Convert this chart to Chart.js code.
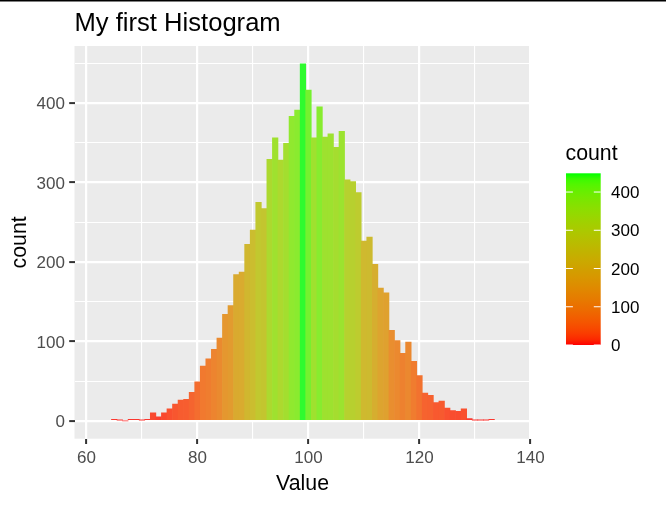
<!DOCTYPE html>
<html>
<head>
<meta charset="utf-8">
<script src="https://cdn.jsdelivr.net/npm/chart.js@4/dist/chart.umd.min.js"></script>
<style>
  body { margin: 0; background: #ffffff; }
  canvas { display: block; }
</style>
</head>
<body>
<canvas id="histogram" width="666" height="505"></canvas>
<script>
// histogram bins (centre of each 1-wide bin) and counts
var binCenters = [65, 66, 67, 68, 69, 70, 71, 72, 73, 74, 75, 76, 77, 78, 79, 80, 81, 82, 83, 84,
   85, 86, 87, 88, 89, 90, 91, 92, 93, 94, 95, 96, 97, 98, 99, 100, 101, 102, 103, 104,
   105, 106, 107, 108, 109, 110, 111, 112, 113, 114, 115, 116, 117, 118, 119, 120, 121, 122, 123, 124,
   125, 126, 127, 128, 129, 130, 131, 132, 133];
var counts = [2, 1, 0, 2, 2, 1, 2, 10, 5, 10, 15, 21, 26, 27, 36, 49, 69, 78, 90, 104,
   134, 145, 184, 187, 222, 240, 275, 267, 329, 356, 328, 349, 383, 391, 449, 416, 356, 395, 357, 361,
   344, 364, 303, 301, 287, 226, 231, 197, 167, 161, 114, 101, 85, 99, 75, 57, 35, 32, 23, 25,
   16, 13, 12, 15, 3, 1, 1, 1, 2];

var xMajorTicks = [60, 80, 100, 120, 140];
var xMinorTicks = [70, 90, 110, 130];
var yMajorTicks = [0, 100, 200, 300, 400];
var yMinorTicks = [50, 150, 250, 350, 450];
var legendTicks = [0, 100, 200, 300, 400];

var countMin = Math.min.apply(null, counts);
var countMax = Math.max.apply(null, counts);

var FONT = "'Liberation Sans', Arial, sans-serif";
var PANEL = [235, 235, 235];

// sRGB <-> CIE Lab, so the fill gradient is interpolated like ggplot's scale_fill_gradient
function toLinear(c) {
   c = c / 255;
   return c <= 0.04045 ? c / 12.92 : Math.pow((c + 0.055) / 1.055, 2.4);
}
function fromLinear(c) {
   c = c <= 0.0031308 ? 12.92 * c : 1.055 * Math.pow(c, 1 / 2.4) - 0.055;
   return Math.max(0, Math.min(255, Math.round(c * 255)));
}
function rgbToLab(rgb) {
   var r = toLinear(rgb[0]), g = toLinear(rgb[1]), b = toLinear(rgb[2]);
   var x = (0.4124564 * r + 0.3575761 * g + 0.1804375 * b) / 0.95047;
   var y = 0.2126729 * r + 0.7151522 * g + 0.072175 * b;
   var z = (0.0193339 * r + 0.119192 * g + 0.9503041 * b) / 1.08883;
   var f = function (t) { return t > 0.008856 ? Math.cbrt(t) : 7.787 * t + 16 / 116; };
   var fx = f(x), fy = f(y), fz = f(z);
   return [116 * fy - 16, 500 * (fx - fy), 200 * (fy - fz)];
}
function labToRgb(lab) {
   var fy = (lab[0] + 16) / 116;
   var fx = fy + lab[1] / 500;
   var fz = fy - lab[2] / 200;
   var inv = function (t) { return t * t * t > 0.008856 ? t * t * t : (t - 16 / 116) / 7.787; };
   var x = inv(fx) * 0.95047, y = inv(fy), z = inv(fz) * 1.08883;
   var r = 3.2404542 * x - 1.5371385 * y - 0.4985314 * z;
   var g = -0.969266 * x + 1.8760108 * y + 0.041556 * z;
   var b = 0.0556434 * x - 0.2040259 * y + 1.0572252 * z;
   return [fromLinear(r), fromLinear(g), fromLinear(b)];
}

var lowLab = rgbToLab([255, 0, 0]);
var highLab = rgbToLab([0, 255, 0]);

function fillRgb(value) {
   var t = (value - countMin) / (countMax - countMin);
   return labToRgb([
      lowLab[0] + t * (highLab[0] - lowLab[0]),
      lowLab[1] + t * (highLab[1] - lowLab[1]),
      lowLab[2] + t * (highLab[2] - lowLab[2]),
   ]);
}
// bars use alpha 0.8 over the grey panel
function barColor(value) {
   var c = fillRgb(value);
   var a = 0.8;
   return "rgb(" + Math.round(c[0] * a + PANEL[0] * (1 - a)) + "," +
      Math.round(c[1] * a + PANEL[1] * (1 - a)) + "," +
      Math.round(c[2] * a + PANEL[2] * (1 - a)) + ")";
}
function solidColor(value) {
   var c = fillRgb(value);
   return "rgb(" + c[0] + "," + c[1] + "," + c[2] + ")";
}

function isMajor(c, majors) {
   return !!(c && c.tick) && majors.indexOf(c.tick.value) >= 0;
}

var points = [];
for (let i = 0; i < binCenters.length; i++) {
   points.push({ x: binCenters[i], y: counts[i] });
}

var panelPlugin = {
   id: "panel",
   beforeDraw: function (chart) {
      var ctx = chart.ctx;
      var area = chart.chartArea;
      ctx.save();
      ctx.fillStyle = "#ffffff";
      ctx.fillRect(0, 0, chart.width, chart.height);
      ctx.fillStyle = "#000000";
      ctx.fillRect(0, 0, chart.width, 1.5);
      ctx.fillStyle = "rgb(" + PANEL.join(",") + ")";
      ctx.fillRect(area.left, area.top, area.right - area.left, area.bottom - area.top);
      ctx.restore();
   },
};

var colorbarPlugin = {
   id: "colorbar",
   afterDraw: function (chart) {
      var ctx = chart.ctx;
      var left = 566, right = 600.7, top = 173.3, bottom = 345;
      ctx.save();
      var grad = ctx.createLinearGradient(0, bottom, 0, top);
      for (let i = 0; i <= 30; i++) {
         var t = i / 30;
         grad.addColorStop(t, solidColor(countMin + t * (countMax - countMin)));
      }
      ctx.fillStyle = grad;
      ctx.fillRect(left, top, right - left, bottom - top);

      ctx.strokeStyle = "#ffffff";
      ctx.lineWidth = 1;
      ctx.fillStyle = "#000000";
      ctx.font = "17px " + FONT;
      ctx.textAlign = "left";
      ctx.textBaseline = "middle";
      legendTicks.forEach(function (v) {
         var y = bottom - ((v - countMin) / (countMax - countMin)) * (bottom - top);
         ctx.beginPath();
         ctx.moveTo(left, y);
         ctx.lineTo(left + 6.9, y);
         ctx.moveTo(right - 6.9, y);
         ctx.lineTo(right, y);
         ctx.stroke();
         ctx.fillText(String(v), 611, y + 1.4);
      });

      ctx.font = "21.3px " + FONT;
      ctx.fillText("count", 565.5, 154.4);
      ctx.restore();
   },
};

var ctx = document.getElementById("histogram").getContext("2d");
var chart = new Chart(ctx, {
   type: "bar",
   data: {
      datasets: [
         {
            label: "count",
            data: points,
            backgroundColor: counts.map(barColor),
            borderWidth: 0,
            barPercentage: 1,
            categoryPercentage: 1,
         },
      ],
   },
   options: {
      responsive: false,
      animation: false,
      layout: { padding: { left: 0, right: 135.4, top: 0, bottom: 0 } },
      plugins: {
         legend: { display: false },
         tooltip: { enabled: false },
         title: {
            display: true,
            text: "My first Histogram",
            align: "start",
            fullSize: false,
            color: "#000000",
            font: { family: FONT, size: 25.6, weight: "normal" },
            padding: { top: 8.3, bottom: 7.0 },
         },
      },
      scales: {
         x: {
            type: "linear",
            min: 57.84,
            max: 140.02,
            offset: false,
            afterBuildTicks: function (scale) {
               scale.ticks = xMajorTicks.concat(xMinorTicks)
                  .sort(function (a, b) { return a - b; })
                  .map(function (v) { return { value: v }; });
            },
            afterFit: function (scale) {
               scale.height = 66.3;
            },
            ticks: {
               autoSkip: false,
               maxRotation: 0,
               padding: 3.9,
               color: "#4d4d4d",
               font: { family: FONT, size: 17 },
               callback: function (value) {
                  return xMajorTicks.indexOf(value) >= 0 ? String(value) : "";
               },
            },
            grid: {
               offset: false,
               color: "#ffffff",
               lineWidth: function (c) { return isMajor(c, xMajorTicks) ? 2.2 : 1.1; },
               tickColor: function (c) { return isMajor(c, xMajorTicks) ? "#333333" : "rgba(0,0,0,0)"; },
               tickWidth: 2,
               tickLength: 5.3,
            },
            border: { display: false },
            title: {
               display: true,
               text: "Value",
               color: "#000000",
               font: { family: FONT, size: 21.3 },
               padding: { top: 0, bottom: 7.8 },
            },
         },
         y: {
            min: -22.45,
            max: 471.45,
            afterBuildTicks: function (scale) {
               scale.ticks = yMajorTicks.concat(yMinorTicks)
                  .sort(function (a, b) { return a - b; })
                  .map(function (v) { return { value: v }; });
            },
            afterFit: function (scale) {
               scale.width = 74.5;
            },
            ticks: {
               autoSkip: false,
               padding: 4.3,
               labelOffset: 1.5,
               color: "#4d4d4d",
               font: { family: FONT, size: 17 },
               callback: function (value) {
                  return yMajorTicks.indexOf(value) >= 0 ? String(value) : "";
               },
            },
            grid: {
               color: "#ffffff",
               lineWidth: function (c) { return isMajor(c, yMajorTicks) ? 2.2 : 1.1; },
               tickColor: function (c) { return isMajor(c, yMajorTicks) ? "#333333" : "rgba(0,0,0,0)"; },
               tickWidth: 2,
               tickLength: 5.3,
            },
            border: { display: false },
            title: {
               display: true,
               text: "count",
               color: "#000000",
               font: { family: FONT, size: 21.3 },
               padding: { top: 7.8, bottom: 0 },
            },
         },
      },
   },
   plugins: [panelPlugin, colorbarPlugin],
});
</script>
</body>
</html>
